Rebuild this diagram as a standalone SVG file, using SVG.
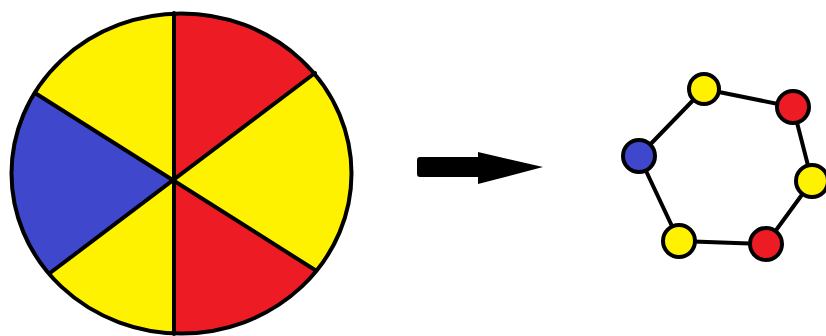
<svg xmlns="http://www.w3.org/2000/svg" width="826" height="336" viewBox="0 0 826 336">
<style>
.y{fill:#FFF200}.r{fill:#ED1C24}.b{fill:#3F48CC}
.spoke{stroke:#000;stroke-width:4;stroke-linecap:round}
.node{stroke:#000;stroke-width:4}
.edge{stroke:#000;stroke-width:4;fill:none}
</style>
<defs>
<clipPath id="wc"><ellipse cx="181.5" cy="173.5" rx="170" ry="160"/></clipPath>
</defs>
<g id="wheel">
<g clip-path="url(#wc)">
<rect x="0" y="0" width="360" height="336" class="y"/>
<polygon class="r" points="174,180 174,-50 370,-20 370,30 315,73"/>
<polygon class="r" points="174,180 315,270 370,305 370,380 174,380"/>
<polygon class="b" points="174,180 35,93 -60,40 -60,330 50,273"/>
</g>
<line class="spoke" x1="174" y1="13" x2="174" y2="334"/>
<line class="spoke" x1="35" y1="93" x2="315" y2="270"/>
<line class="spoke" x1="50" y1="273" x2="315" y2="73"/>
<ellipse cx="181.5" cy="173.5" rx="170" ry="160" fill="none" stroke="#000" stroke-width="4"/>
</g>
<g id="arrow">
<path d="M420,157 H478 V152 L543,167 L478,184 V177 H420 Q417,177 417,174 V160 Q417,157 420,157 Z" fill="#000"/>
</g>
<g id="connectors">
<polygon class="edge" points="704,89 793,107 812,181 766,244 679,241 639,156"/>
</g>
<g id="n1"><circle class="node y" cx="704" cy="89" r="15"/></g>
<g id="n2"><circle class="node r" cx="793" cy="107" r="16"/></g>
<g id="n3"><circle class="node y" cx="812" cy="181" r="16"/></g>
<g id="n4"><circle class="node r" cx="766" cy="244" r="16"/></g>
<g id="n5"><circle class="node y" cx="679" cy="241" r="16"/></g>
<g id="n6"><circle class="node b" cx="639" cy="156" r="16"/></g>
</svg>
